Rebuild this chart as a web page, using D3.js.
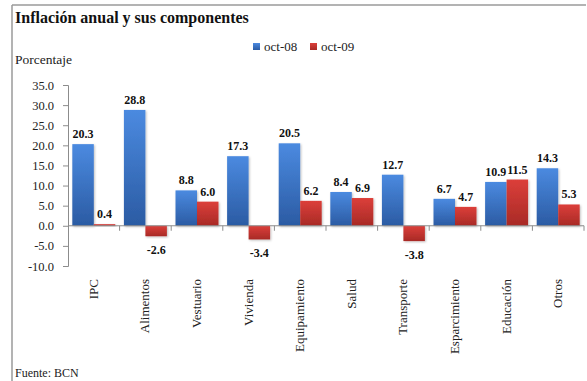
<!DOCTYPE html>
<html>
<head>
<meta charset="utf-8">
<script src="https://cdn.jsdelivr.net/npm/d3@7"></script>
<style>
  html, body { margin: 0; padding: 0; background: #fff; }
  svg { display: block; }
  svg text { font-family: "Liberation Serif", "DejaVu Serif", serif; }
</style>
</head>
<body>
<svg id="chart" width="587" height="381"></svg>
<script>
// Components of annual inflation
const categories = ["IPC", "Alimentos", "Vestuario", "Vivienda", "Equipamiento",
                    "Salud", "Transporte", "Esparcimiento", "Educación", "Otros"];
const seriesNames = ["oct-08", "oct-09"];
const oct08 = [20.3, 28.8, 8.8, 17.3, 20.5, 8.4, 12.7, 6.7, 10.9, 14.3];
const oct09 = [0.4, -2.6, 6.0, -3.4, 6.2, 6.9, -3.8, 4.7, 11.5, 5.3];
const yTicks = [35, 30, 25, 20, 15, 10, 5, 0, -5, -10];

const fmt = v => d3.format(".1f")(v).replace("\u2212", "-");

const svg = d3.select("#chart");

// gradients for the bar fills
const defs = svg.append("defs");
const grads = [
  { id: "gBlue", top: "#4b8ae0", bottom: "#2b5ba3" },
  { id: "gRed",  top: "#dc3f3a", bottom: "#a82a26" }
];
grads.forEach(g => {
  const lg = defs.append("linearGradient").attr("id", g.id)
    .attr("x1", 0).attr("y1", 0).attr("x2", 0).attr("y2", 1);
  lg.append("stop").attr("offset", "0%").attr("stop-color", g.top);
  lg.append("stop").attr("offset", "100%").attr("stop-color", g.bottom);
});
const shadow = defs.append("filter").attr("id", "soft")
  .attr("x", "-20%").attr("y", "-20%").attr("width", "140%").attr("height", "140%");
shadow.append("feDropShadow").attr("dx", 1).attr("dy", 1)
  .attr("stdDeviation", 1).attr("flood-color", "#000").attr("flood-opacity", 0.25);

// frame
svg.append("line").attr("x1", 12).attr("y1", 5).attr("x2", 586).attr("y2", 5)
  .attr("stroke", "#9a9a9a").attr("stroke-width", 1.5);
svg.append("line").attr("x1", 12).attr("y1", 5).attr("x2", 12).attr("y2", 381)
  .attr("stroke", "#9a9a9a").attr("stroke-width", 1.5);

// title and labels
svg.append("text").attr("x", 15).attr("y", 23)
  .attr("font-size", 16).attr("font-weight", "bold").attr("fill", "#111")
  .text("Inflación anual y sus componentes");
svg.append("text").attr("x", 15).attr("y", 64)
  .attr("font-size", 13.5).attr("fill", "#222").text("Porcentaje");
svg.append("text").attr("x", 15).attr("y", 377)
  .attr("font-size", 12).attr("fill", "#222").text("Fuente: BCN");

// scales
const x0 = d3.scaleBand().domain(categories).range([68, 584]).paddingInner(0.167).paddingOuter(0.0835);
const x1 = d3.scaleBand().domain(seriesNames).range([0, x0.bandwidth()]);
const y = d3.scaleLinear().domain([-10, 35]).range([266, 85]);

// y axis
const yAxis = svg.append("g").attr("transform", "translate(68,0)")
  .call(d3.axisLeft(y).tickValues(yTicks).tickFormat(fmt).tickSizeOuter(0).tickSize(5).tickPadding(9));
yAxis.attr("font-family", null);
yAxis.select(".domain").attr("stroke", "#8c8c8c");
yAxis.selectAll(".tick line").attr("stroke", "#8c8c8c");
yAxis.selectAll("text").attr("font-size", 12.5).attr("fill", "#222");

// bars
const colors = { "oct-08": "url(#gBlue)", "oct-09": "url(#gRed)" };
const rows = categories.map((c, i) => ({ cat: c, vals: [
  { s: "oct-08", v: oct08[i] }, { s: "oct-09", v: oct09[i] } ] }));

const groups = svg.append("g").selectAll("g").data(rows).join("g")
  .attr("transform", d => `translate(${x0(d.cat)},0)`);

groups.selectAll("rect").data(d => d.vals).join("rect")
  .attr("x", d => x1(d.s))
  .attr("width", x1.bandwidth())
  .attr("y", d => y(Math.max(0, d.v)))
  .attr("height", d => Math.abs(y(d.v) - y(0)))
  .attr("fill", d => colors[d.s])
  .attr("filter", "url(#soft)");

// value labels
groups.selectAll("text.val").data(d => d.vals).join("text")
  .attr("class", "val")
  .attr("x", d => x1(d.s) + x1.bandwidth() / 2)
  .attr("y", d => d.v >= 0 ? y(d.v) - 6 : y(d.v) + 18)
  .attr("text-anchor", "middle")
  .attr("font-size", 12).attr("font-weight", "bold").attr("fill", "#111")
  .text(d => fmt(d.v));

// x axis at zero with separators between categories
const zeroY = y(0);
svg.append("line").attr("x1", 68).attr("x2", 584).attr("y1", zeroY).attr("y2", zeroY)
  .attr("stroke", "#8c8c8c");
const step = x0.step();
d3.range(1, categories.length + 1).forEach(k => {
  const xs = 68 + step * k;
  svg.append("line").attr("x1", xs).attr("x2", xs).attr("y1", zeroY).attr("y2", zeroY + 5)
    .attr("stroke", "#8c8c8c");
});

// category labels, rotated
svg.append("g").selectAll("text").data(categories).join("text")
  .attr("transform", d => `translate(${x0(d) + x0.bandwidth() / 2 + 4},279) rotate(-90)`)
  .attr("text-anchor", "end")
  .attr("font-size", 13).attr("fill", "#222")
  .text(d => d);

// legend
const legend = svg.append("g");
const legendX = [253, 310];
seriesNames.forEach((s, i) => {
  legend.append("rect").attr("x", legendX[i]).attr("y", 43).attr("width", 7).attr("height", 7)
    .attr("fill", colors[s]);
  legend.append("text").attr("x", legendX[i] + 11).attr("y", 51)
    .attr("font-size", 13).attr("fill", "#222").text(s);
});
</script>
</body>
</html>
